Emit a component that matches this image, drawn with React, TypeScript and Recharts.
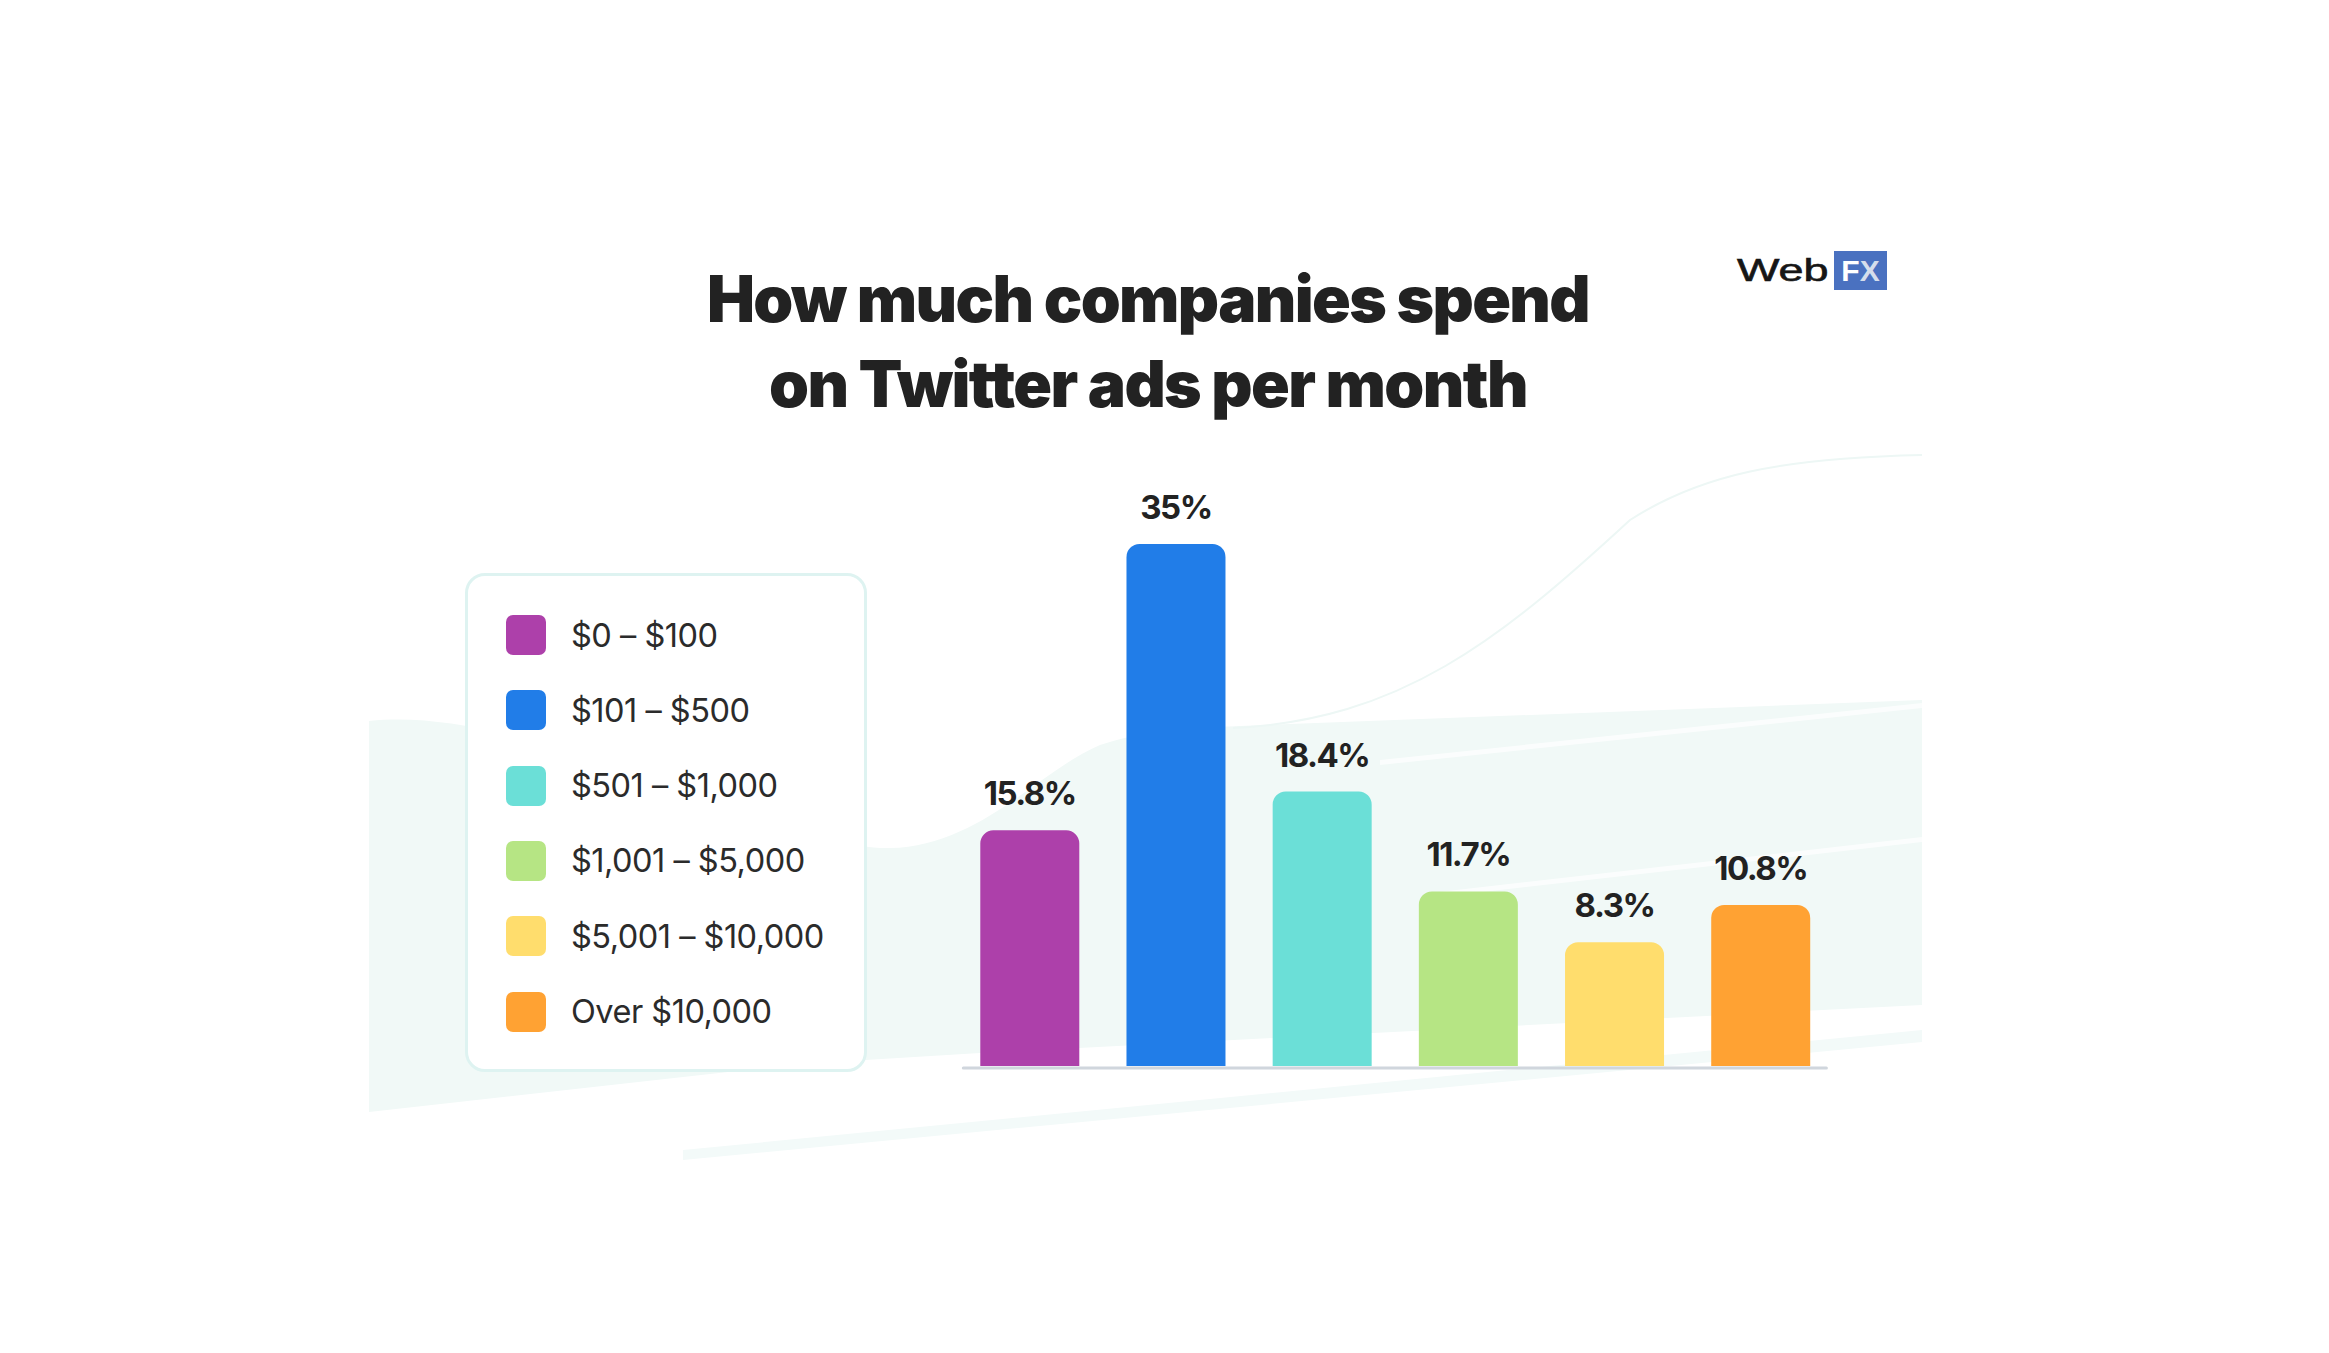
import React from 'react';
import { BarChart, Bar, XAxis, YAxis, Cell, LabelList, ReferenceLine } from 'recharts';

const categories = ['$0 – $100', '$101 – $500', '$501 – $1,000', '$1,001 – $5,000', '$5,001 – $10,000', 'Over $10,000'];
const shares = [15.8, 35, 18.4, 11.7, 8.3, 10.8];
const colors = ['#ad40aa', '#217de8', '#6bdfd7', '#b6e584', '#ffdd6d', '#ffa233'];
const titleLines = ['How much companies spend', 'on Twitter ads per month'];

const data = categories.map((name, i) => ({ name, value: shares[i] }));

const W = 2329;
const H = 1353;

const Background = () => (
  <svg width={W} height={H} style={{ position: 'absolute', left: 0, top: 0 }}>
    <path
      d="M369,721 C420,716 460,725 520,735 C650,760 800,850 890,848 C980,846 1040,770 1100,745 C1140,732 1180,728 1240,726 L1922,700 L1922,1005 L980,1053 L800,1064 L369,1112 Z"
      fill="#f1f9f7"
    />
    <path
      d="M1233,728 C1400,720 1500,640 1630,520 C1700,475 1780,458 1922,455"
      fill="none"
      stroke="#edf7f5"
      strokeWidth={2}
    />
    <path d="M1380,760 L1922,703 L1922,708 L1380,765 Z" fill="#ffffff" opacity={0.7} />
    <path d="M1430,893 L1922,837 L1922,842 L1430,898 Z" fill="#ffffff" opacity={0.7} />
    <path d="M683,1150 L1922,1030 L1922,1042 L683,1160 Z" fill="#f3faf9" />
  </svg>
);

const renderLabel = (props: any) => {
  const { x, y, width, value } = props;
  return (
    <text
      x={x + width / 2}
      y={y - 25}
      textAnchor="middle"
      fill="#222222"
      fontFamily="Inter, sans-serif"
      fontWeight={700}
      fontSize={33}
      letterSpacing={-1.5}
    >
      {`${value}%`}
    </text>
  );
};

const baseline = (props: any) => {
  const { x1, x2, y1 } = props;
  return (
    <line
      x1={x1 + 7}
      x2={x2 - 7}
      y1={y1 + 2}
      y2={y1 + 2}
      stroke="#d0d6dd"
      strokeWidth={3}
      strokeLinecap="round"
    />
  );
};

export default function App() {
  return (
    <div style={{ position: 'fixed', left: 0, top: 0, width: W, height: H, background: '#ffffff', overflow: 'hidden' }}>
      <Background />
      <div
        style={{
          position: 'absolute',
          left: 0,
          width: 2296,
          top: 256,
          textAlign: 'center',
          fontFamily: 'Inter, sans-serif',
          fontWeight: 900,
          fontSize: 64,
          lineHeight: '85px',
          letterSpacing: -1.6,
          color: '#222222',
        }}
      >
        {titleLines.map((t) => (
          <div key={t}>{t}</div>
        ))}
      </div>
      <div style={{ position: 'absolute', left: 1737, top: 251, height: 39, display: 'flex', alignItems: 'center' }}>
        <span
          style={{
            fontFamily: '"Liberation Sans", Arial, sans-serif',
            fontSize: 31,
            color: '#161616',
            display: 'inline-block',
            transform: 'scaleX(1.45)',
            transformOrigin: 'left center',
            WebkitTextStroke: '0.6px #161616',
            width: 95,
          }}
        >
          Web
        </span>
        <span
          style={{
            background: '#4a71c0',
            width: 53,
            height: 39,
            display: 'inline-flex',
            alignItems: 'center',
            justifyContent: 'center',
            fontFamily: '"Liberation Sans", Arial, sans-serif',
            fontWeight: 700,
            fontSize: 30,
            marginLeft: 2,
          }}
        >
          <span style={{ color: '#ffffff' }}>F</span>
          <span style={{ color: '#d5deec' }}>X</span>
        </span>
      </div>
      <div
        style={{
          position: 'absolute',
          left: 465,
          top: 573,
          width: 402,
          height: 499,
          boxSizing: 'border-box',
          border: '3px solid #def3f1',
          borderRadius: 20,
          background: '#ffffff',
        }}
      >
        {categories.map((c, i) => (
          <div
            key={c}
            style={{
              position: 'absolute',
              left: 38,
              top: 39 + i * 75.3,
              height: 40,
              display: 'flex',
              alignItems: 'center',
            }}
          >
            <div style={{ width: 40, height: 40, borderRadius: 7, background: colors[i] }} />
            <span
              style={{
                marginLeft: 25,
                fontFamily: 'Inter, sans-serif',
                fontSize: 32.5,
                color: '#2b2b2b',
                letterSpacing: -0.5,
                whiteSpace: 'nowrap',
              }}
            >
              {c}
            </span>
          </div>
        ))}
      </div>
      <div style={{ position: 'absolute', left: 0, top: 0 }}>
        <BarChart
          width={W}
          height={H}
          data={data}
          margin={{ left: 956.3, right: 495.6, top: 469.4, bottom: 287 }}
        >
          <XAxis dataKey="name" hide />
          <YAxis hide domain={[0, 40]} />
          <ReferenceLine y={0} ifOverflow="visible" shape={baseline} />
          <Bar dataKey="value" barSize={99} radius={[13, 13, 0, 0]} isAnimationActive={false}>
            {data.map((d, i) => (
              <Cell key={d.name} fill={colors[i]} />
            ))}
            <LabelList dataKey="value" content={renderLabel} />
          </Bar>
        </BarChart>
      </div>
    </div>
  );
}
